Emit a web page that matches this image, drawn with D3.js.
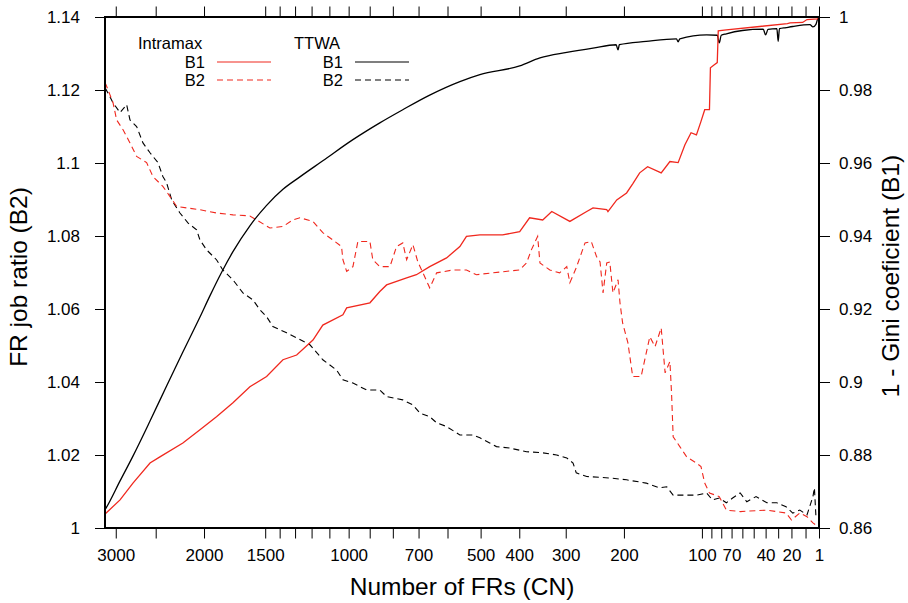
<!DOCTYPE html>
<html>
<head>
<meta charset="utf-8">
<script src="https://cdn.jsdelivr.net/npm/d3@7"></script>
<style>
  body { margin: 0; background: #fff; }
  svg { font-family: "Liberation Sans", Arial, Helvetica, sans-serif; }
  .tick text { font-size: 17px; fill: #000; }
  .tick line { stroke: #000; }
</style>
</head>
<body>
<svg id="chart"></svg>
<script>
// x ticks (number of FRs) and which ones get a label
var xTicks = [3000, 2500, 2000, 1500, 1400, 1300, 1200, 1100, 1000, 900, 800, 700, 600,
              500, 400, 300, 200, 100, 90, 80, 70, 60, 50, 40, 30, 20, 10, 1];
var xLabels = [3000, 2000, 1500, 1000, 700, 500, 400, 300, 200, 100, 70, 40, 20, 1];
var leftTicks = [1, 1.02, 1.04, 1.06, 1.08, 1.1, 1.12, 1.14];
var rightTicks = [0.86, 0.88, 0.9, 0.92, 0.94, 0.96, 0.98, 1];

// [number of FRs, value]
// B1 = 1 - Gini coeficient (right axis)
var ttwaB1 = [[3150,0.8650],[3134,0.8655],[2942,0.8729],[2774,0.8797],[2566,0.8893],[2378,0.8989],
  [2206,0.9082],[2038,0.9178],[1946,0.9236],[1832,0.9307],[1747,0.9357],[1613,0.9428],[1490,0.9484],
  [1378,0.9528],[1270,0.9562],[1136,0.9606],[979,0.9664],[855,0.9710],[760,0.9746],[660,0.9786],
  [561,0.9823],[502,0.9842],[399,0.9866],[353,0.9888],[298,0.9903],[250,0.9915],[212,0.9924],[209,0.9910],
  [207,0.9924],[168,0.9933],[129,0.9940],[127,0.9932],[125,0.9940],[95,0.9951],[84,0.9950],
  [82,0.9929],[80,0.9950],[75,0.9954],[60,0.9963],[42,0.9967],[40,0.9951],[38,0.9966],[31,0.9968],
  [30,0.9933],[29,0.9968],[24,0.9971],[19,0.9974],[7,0.9979],[5,0.9973],[3,0.9980],[2,0.9993],[1,0.9998]];

var intramaxB1 = [[3150,0.8638],[3134,0.8641],[2942,0.8677],[2774,0.8723],[2566,0.8778],[2452,0.8795],
  [2206,0.8833],[2038,0.8869],[1887,0.8905],[1747,0.8943],[1613,0.8987],[1490,0.9015],[1378,0.9061],
  [1290,0.9074],[1192,0.9115],[1136,0.9156],[1029,0.9184],[1010,0.9203],[899,0.9217],[855,0.9248],
  [826,0.9266],[745,0.9285],[708,0.9294],[660,0.9316],[603,0.9340],[561,0.9371],[541,0.9399],
  [502,0.9403],[441,0.9403],[399,0.9412],[376,0.9450],[347,0.9444],[328,0.9467],[292,0.9440],
  [261,0.9467],[250,0.9477],[227,0.9472],[225,0.9467],[211,0.9499],[196,0.9518],[187,0.9543],
  [177,0.9573],[166,0.9590],[148,0.9573],[137,0.9604],[127,0.9601],[119,0.9650],[112,0.9683],
  [106,0.9677],[101,0.9714],[97,0.9746],[92,0.9746],[91,0.9861],[87,0.9869],[84,0.9875],
  [83,0.9962],[75,0.9965],[45,0.9974],[23,0.9982],[21,0.9984],[12,0.9985],[9,0.9993],[2,0.9995],[1,1.0]];

// B2 = FR job ratio (left axis)
var intramaxB2 = [[3150,1.1220],[3134,1.1214],[3037,1.1165],[2988,1.1118],[2902,1.1091],[2812,1.1055],
  [2728,1.1018],[2606,1.1001],[2532,1.0963],[2419,1.0936],[2341,1.0908],[2270,1.0881],[2169,1.0877],
  [2038,1.0872],[1887,1.0863],[1747,1.0858],[1613,1.0855],[1562,1.0844],[1467,1.0822],[1378,1.0826],
  [1314,1.0844],[1270,1.0850],[1192,1.0840],[1136,1.0809],[1081,1.0789],[1036,1.0771],[1029,1.0735],
  [1010,1.0703],[979,1.0716],[955,1.0785],[899,1.0785],[886,1.0735],[855,1.0716],[812,1.0716],
  [785,1.0771],[760,1.0781],[745,1.0735],[721,1.0776],[703,1.0730],[684,1.0699],[660,1.0658],
  [636,1.0699],[583,1.0707],[541,1.0707],[512,1.0694],[467,1.0699],[399,1.0707],[383,1.0726],
  [372,1.0762],[358,1.0799],[353,1.0726],[332,1.0707],[312,1.0699],[298,1.0716],[292,1.0672],
  [280,1.0713],[264,1.0781],[253,1.0785],[244,1.0744],[238,1.0729],[233,1.0644],[227,1.0726],
  [222,1.0729],[217,1.0644],[209,1.0680],[206,1.0617],[202,1.0562],[194,1.0507],[187,1.0415],
  [175,1.0415],[163,1.0524],[156,1.0497],[148,1.0548],[143,1.0425],[137,1.0456],[135,1.0370],
  [133,1.0250],[125,1.0223],[117,1.0195],[106,1.0178],[101,1.0168],[97,1.0123],[92,1.0096],
  [82,1.0086],[75,1.0049],[62,1.0045],[39,1.0049],[24,1.0041],[20,1.0022],[14,1.0041],[9,1.0031],
  [5,1.0014],[3,1.0008],[1,1.0005]];

var ttwaB2 = [[3150,1.1205],[3134,1.1201],[3037,1.1165],[2942,1.1138],[2855,1.1160],[2812,1.1118],
  [2728,1.1100],[2650,1.1055],[2566,1.1028],[2474,1.1001],[2419,1.0963],[2378,1.0946],[2323,1.0899],
  [2236,1.0863],[2155,1.0836],[2070,1.0817],[2038,1.0789],[1976,1.0762],[1887,1.0735],[1832,1.0707],
  [1747,1.0680],[1667,1.0644],[1590,1.0625],[1538,1.0598],[1490,1.0579],[1446,1.0552],[1354,1.0535],
  [1290,1.0521],[1210,1.0502],[1136,1.0461],[1062,1.0433],[1029,1.0406],[979,1.0397],[914,1.0378],
  [855,1.0378],[826,1.0360],[760,1.0351],[721,1.0337],[695,1.0315],[660,1.0305],[636,1.0288],
  [603,1.0278],[561,1.0255],[522,1.0255],[502,1.0247],[475,1.0233],[457,1.0223],[423,1.0219],
  [383,1.0209],[347,1.0206],[318,1.0200],[298,1.0192],[286,1.0178],[280,1.0151],[261,1.0141],
  [222,1.0137],[196,1.0132],[168,1.0123],[150,1.0110],[141,1.0113],[133,1.0090],[106,1.0090],
  [95,1.0096],[89,1.0077],[82,1.0082],[75,1.0069],[69,1.0082],[62,1.0096],[56,1.0072],[48,1.0086],
  [39,1.0069],[31,1.0069],[24,1.0058],[19,1.0041],[14,1.0049],[9,1.0036],[5,1.0086],[4,1.0110],
  [3,1.0031],[1,1.0030]];

// margins and size
var margin = { top: 17, right: 89, bottom: 75, left: 105 };
var W = 908, H = 603;
var width = W - margin.left - margin.right;
var height = H - margin.top - margin.bottom;

var red = "#f0281e";

// x is log(1 + n/c) reversed
var x = d3.scaleSymlog().constant(149).domain([3150, 1]).range([0, width]);
var yL = d3.scaleLinear().domain([1, 1.14]).range([height, 0]);
var yR = d3.scaleLinear().domain([0.86, 1]).range([height, 0]);

var svg = d3.select("#chart").attr("width", W).attr("height", H);
var g = svg.append("g").attr("transform", "translate(" + margin.left + "," + margin.top + ")");

var fmt = function(d) { return String(+d.toFixed(2)); };

g.append("g")
    .attr("transform", "translate(0," + height + ")")
    .call(d3.axisBottom(x).tickValues(xTicks).tickSize(10.5).tickPadding(10)
      .tickFormat(function(d) { return xLabels.indexOf(d) >= 0 ? d : ""; }));
g.append("g")
    .call(d3.axisTop(x).tickValues(xTicks).tickSize(10.5).tickFormat(""));
g.append("g")
    .call(d3.axisLeft(yL).tickValues(leftTicks).tickSize(10).tickPadding(15).tickFormat(fmt));
g.append("g")
    .attr("transform", "translate(" + width + ",0)")
    .call(d3.axisRight(yR).tickValues(rightTicks).tickSize(11).tickPadding(9).tickFormat(fmt));
g.selectAll(".domain").remove();

// lines
var lineL = d3.line().x(function(d) { return x(d[0]); }).y(function(d) { return yL(d[1]); });
var lineR = d3.line().x(function(d) { return x(d[0]); }).y(function(d) { return yR(d[1]); });
var lineSmooth = d3.line().curve(d3.curveMonotoneX)
    .x(function(d) { return x(d[0]); }).y(function(d) { return yR(d[1]); });

var plot = g.append("g");
plot.append("path").datum(ttwaB2).attr("d", lineL)
    .attr("fill", "none").attr("stroke", "#000").attr("stroke-width", 1.1).attr("stroke-dasharray", "6,4");
plot.append("path").datum(intramaxB2).attr("d", lineL)
    .attr("fill", "none").attr("stroke", red).attr("stroke-width", 1.1).attr("stroke-dasharray", "6,4");
plot.append("path").datum(ttwaB1).attr("d", lineSmooth)
    .attr("fill", "none").attr("stroke", "#000").attr("stroke-width", 1.3);
plot.append("path").datum(intramaxB1).attr("d", lineR)
    .attr("fill", "none").attr("stroke", red).attr("stroke-width", 1.3);

// frame
g.append("rect").attr("width", width).attr("height", height)
    .attr("fill", "none").attr("stroke", "#000").attr("stroke-width", 2);

// axis titles
svg.append("text")
    .attr("transform", "translate(27," + 277 + ") rotate(-90)")
    .attr("text-anchor", "middle").style("font-size", "24.5px")
    .text("FR job ratio (B2)");
svg.append("text")
    .attr("transform", "translate(899," + 276 + ") rotate(-90)")
    .attr("text-anchor", "middle").style("font-size", "24.5px")
    .text("1 - Gini coeficient (B1)");
svg.append("text")
    .attr("x", margin.left + width / 2).attr("y", 595)
    .attr("text-anchor", "middle").style("font-size", "24.5px")
    .text("Number of FRs (CN)");

// legend
var legend = svg.append("g").style("font-size", "16.5px");
var groups = [
  { name: "Intramax", color: red, tx: 138, lx: 205 },
  { name: "TTWA", color: "#000", tx: 294, lx: 343 }
];
groups.forEach(function(gr) {
  legend.append("text").attr("x", gr.tx).attr("y", 49).text(gr.name);
  ["B1", "B2"].forEach(function(b, i) {
    var yy = 68 + i * 18;
    legend.append("text").attr("x", gr.lx).attr("y", yy).attr("text-anchor", "end").text(b);
    legend.append("line")
        .attr("x1", gr.lx + 12).attr("x2", gr.lx + 66)
        .attr("y1", yy - 6).attr("y2", yy - 6)
        .attr("stroke", gr.color).attr("stroke-width", 1.2)
        .attr("stroke-dasharray", i === 1 ? "6,4" : null);
  });
});
</script>
</body>
</html>
